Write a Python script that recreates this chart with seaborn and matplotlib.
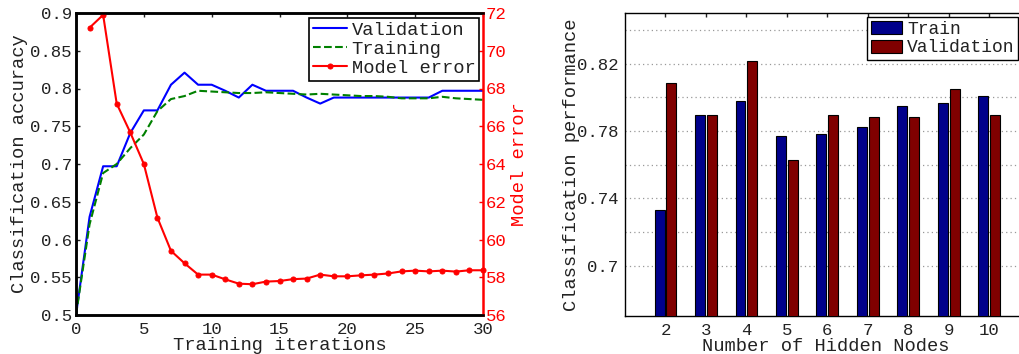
import numpy as np
import pandas as pd
import matplotlib
matplotlib.use("Agg")
import matplotlib.pyplot as plt
from matplotlib.patches import Patch
import seaborn as sns

# ---------------- data ----------------
iterations = list(range(0, 31))
validation_acc = [0.50, 0.63, 0.697, 0.697, 0.741, 0.771, 0.771, 0.805, 0.821, 0.805,
                  0.805, 0.797, 0.788, 0.805, 0.797, 0.797, 0.797, 0.788, 0.780, 0.788,
                  0.788, 0.788, 0.788, 0.788, 0.788, 0.788, 0.788, 0.797, 0.797, 0.797, 0.797]
training_acc = [0.50, 0.62, 0.688, 0.700, 0.721, 0.739, 0.770, 0.786, 0.790, 0.797,
                0.796, 0.795, 0.794, 0.794, 0.795, 0.794, 0.793, 0.792, 0.793, 0.792,
                0.791, 0.790, 0.790, 0.789, 0.787, 0.787, 0.787, 0.789, 0.787, 0.786, 0.785]
error_iters = list(range(1, 31))
model_error = [71.22, 71.9, 67.2, 65.67, 64.0, 61.16, 59.4, 58.74, 58.14, 58.14,
               57.89, 57.66, 57.63, 57.77, 57.8, 57.9, 57.93, 58.14, 58.05, 58.05,
               58.1, 58.14, 58.2, 58.31, 58.35, 58.31, 58.35, 58.3, 58.37, 58.37]

acc_ticks = [0.5, 0.55, 0.6, 0.65, 0.7, 0.75, 0.8, 0.85, 0.9]
err_ticks = [56, 58, 60, 62, 64, 66, 68, 70, 72]
iter_ticks = [0, 5, 10, 15, 20, 25, 30]

hidden_nodes = [2, 3, 4, 5, 6, 7, 8, 9, 10]
train_perf = [0.7328, 0.7894, 0.7977, 0.7769, 0.7779, 0.7820, 0.7947, 0.7965, 0.8004]
valid_perf = [0.8083, 0.7894, 0.8214, 0.7629, 0.7894, 0.7882, 0.7882, 0.8048, 0.7894]
perf_ticks = [0.70, 0.74, 0.78, 0.82]
perf_grid = [0.72, 0.76, 0.80, 0.84]

# ---------------- style ----------------
sns.set_style("white")
FONT = ["Liberation Mono", "DejaVu Sans Mono"]
plt.rcParams["font.family"] = FONT
plt.rcParams["axes.unicode_minus"] = False

W, H = 1020, 354
fig = plt.figure(figsize=(W / 100, H / 100), dpi=100)

def rect(l, r, t, b):
    return [l / W, 1 - b / H, (r - l) / W, (b - t) / H]

TICK_FS = 12.5
LAB_FS = 13.5

# ---------------- left chart ----------------
ax = fig.add_axes(rect(76, 483, 13, 315))
ax2 = ax.twinx()

sns.lineplot(x=iterations, y=validation_acc, ax=ax, color="#0000FF", lw=1.5, label="Validation", legend=False)
sns.lineplot(x=iterations, y=training_acc, ax=ax, color="#008000", lw=1.5, linestyle="--",
             label="Training", legend=False)
sns.lineplot(x=error_iters, y=model_error, ax=ax2, color="#FF0000", lw=1.5, marker="o",
             markersize=3.6, markeredgecolor="#FF0000", label="Model error", legend=False, clip_on=False)

ax.set_xlim(0, 30)
ax.set_ylim(0.5, 0.9)
ax2.set_ylim(56, 72)
ax.set_xticks(iter_ticks)
ax.set_xticklabels([str(v) for v in iter_ticks])
ax.set_yticks(acc_ticks)
ax.set_yticklabels([f"{v:g}" for v in acc_ticks])
ax2.set_yticks(err_ticks)
ax2.set_yticklabels([str(v) for v in err_ticks])

ax.tick_params(axis="both", direction="in", length=3, width=1, labelsize=TICK_FS, colors="#222222")
ax.tick_params(axis="x", top=True, pad=5)
ax.tick_params(axis="y", pad=3)
ax2.tick_params(axis="y", direction="in", length=3, width=1, labelsize=TICK_FS,
                colors="#FF0000", pad=2)
for s in ["left", "bottom", "top"]:
    ax.spines[s].set_linewidth(1.8)
    ax.spines[s].set_color("black")
    ax2.spines[s].set_linewidth(1.8)
    ax2.spines[s].set_color("black")
ax2.spines["right"].set_color("#FF0000")
ax2.spines["right"].set_linewidth(1.8)
ax.spines["right"].set_visible(False)

ax.set_xlabel("Training iterations", fontsize=LAB_FS, color="#222222")
ax.set_ylabel("Classification accuracy", fontsize=LAB_FS, color="#222222")
ax2.set_ylabel("Model error", fontsize=LAB_FS, color="#FF0000")
ax.xaxis.set_label_coords(0.5, -0.072)
ax.yaxis.set_label_coords(-0.118, 0.5)
ax2.yaxis.set_label_coords(1.068, 0.5)

h1, l1 = ax.get_legend_handles_labels()
h2, l2 = ax2.get_legend_handles_labels()
leg = ax2.legend(h1 + h2, l1 + l2, loc="upper right", bbox_to_anchor=(1 - 4 / 407, 1 - 5 / 302),
                 borderaxespad=0, fontsize=LAB_FS, frameon=True, fancybox=False,
                 edgecolor="black", framealpha=1, handlelength=1.8, handletextpad=0.25,
                 labelspacing=0.1, borderpad=0.2)
leg.get_frame().set_linewidth(1.2)
for t in leg.get_texts():
    t.set_color("#222222")

# ---------------- right chart ----------------
bx = fig.add_axes(rect(625, 1029.6, 13, 316))
df = pd.DataFrame({
    "nodes": hidden_nodes * 2,
    "perf": train_perf + valid_perf,
    "set": ["Train"] * len(hidden_nodes) + ["Validation"] * len(hidden_nodes),
})
bar_colors = {"Train": "#00008B", "Validation": "#800000"}
sns.barplot(data=df, x="nodes", y="perf", hue="set", hue_order=["Train", "Validation"],
            palette=bar_colors, saturation=1, native_scale=True, width=0.58, gap=0.15,
            errorbar=None, edgecolor="black", linewidth=0.8, ax=bx, legend=False, zorder=3)

bx.set_xlim(1, 11)
bx.set_ylim(0.67, 0.85)
bx.set_xticks(hidden_nodes)
bx.set_xticklabels([str(v) for v in hidden_nodes])
bx.set_yticks(perf_ticks)
bx.set_yticklabels([f"{v:g}" for v in perf_ticks])
bx.set_yticks(perf_grid, minor=True)
bx.grid(axis="y", which="both", linestyle=(0, (1, 2.5)), color="#999999", linewidth=0.9, zorder=0)
bx.set_axisbelow(True)
bx.tick_params(axis="x", direction="in", length=3, width=1, top=True, labelsize=TICK_FS,
               colors="#222222", pad=5)
bx.tick_params(axis="y", which="both", length=0, labelsize=TICK_FS, colors="#222222", pad=5)
for s in bx.spines.values():
    s.set_linewidth(1.0)
    s.set_color("black")

bx.set_xlabel("Number of Hidden Nodes", fontsize=LAB_FS, color="#222222")
bx.set_ylabel("Classification performance", fontsize=LAB_FS, color="#222222")
bx.xaxis.set_label_coords(0.495, -0.072)
bx.yaxis.set_label_coords(-0.11, 0.5)

handles = [Patch(facecolor=bar_colors[k], edgecolor="black", linewidth=0.8) for k in ["Train", "Validation"]]
leg2 = fig.legend(handles, ["Train", "Validation"], loc="upper right",
                  bbox_to_anchor=(1018 / W, 1 - 17 / H), borderaxespad=0, fontsize=13,
                  frameon=True, fancybox=False, edgecolor="black", framealpha=1,
                  handlelength=1.75, handleheight=0.75, handletextpad=0.25,
                  labelspacing=0.1, borderpad=0.2)
leg2.get_frame().set_linewidth(1.0)
for t in leg2.get_texts():
    t.set_color("#222222")

fig.savefig("out.png", dpi=100)
